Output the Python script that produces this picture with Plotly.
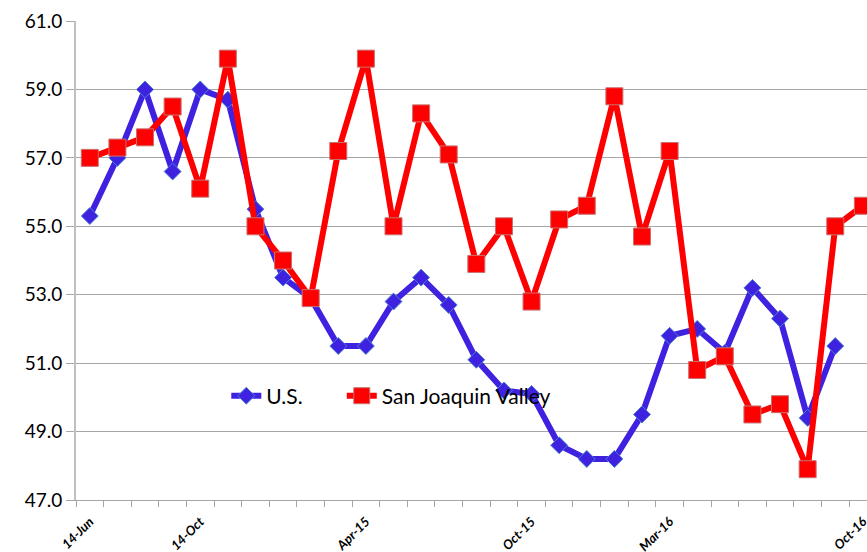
import plotly.graph_objects as go

months = ["14-Jun","14-Jul","14-Aug","14-Sep","14-Oct","14-Nov","14-Dec","15-Jan","15-Feb","15-Mar",
          "Apr-15","May-15","Jun-15","Jul-15","Aug-15","Sep-15","Oct-15","Nov-15","Dec-15","Jan-16",
          "Feb-16","Mar-16","Apr-16","May-16","Jun-16","Jul-16","Aug-16","Sep-16","Oct-16"]
us = [55.3, 57.0, 59.0, 56.6, 59.0, 58.7, 55.5, 53.5, 52.9, 51.5,
      51.5, 52.8, 53.5, 52.7, 51.1, 50.2, 50.1, 48.6, 48.2, 48.2,
      49.5, 51.8, 52.0, 51.3, 53.2, 52.3, 49.4, 51.5]
sjv = [57.0, 57.3, 57.6, 58.5, 56.1, 59.9, 55.0, 54.0, 52.9, 57.2,
       59.9, 55.0, 58.3, 57.1, 53.9, 55.0, 52.8, 55.2, 55.6, 58.8,
       54.7, 57.2, 50.8, 51.2, 49.5, 49.8, 47.9, 55.0, 55.6]
label_idx = [0, 4, 10, 16, 21, 28]
label_text = ["14-Jun", "14-Oct", "Apr-15", "Oct-15", "Mar-16", "Oct-16"]
y_ticks = [47, 49, 51, 53, 55, 57, 59, 61]

x_us = list(range(len(us)))
x_sjv = list(range(len(sjv)))

fig = go.Figure()
fig.add_trace(go.Scatter(
    x=x_us, y=us, name="U.S.", mode="lines+markers", legend="legend", showlegend=True,
    line=dict(color="#3F22E0", width=6),
    marker=dict(symbol="diamond", size=13, color="#3F22E0",
                line=dict(color="#4A7FD0", width=1)),
    cliponaxis=False))
fig.add_trace(go.Scatter(
    x=x_sjv, y=sjv, name="San Joaquin Valley", mode="lines+markers", legend="legend2", showlegend=True,
    line=dict(color="#FF0000", width=6),
    marker=dict(symbol="square", size=17, color="#FF0000",
                line=dict(color="#C87070", width=1)),
    cliponaxis=False))

leg_common = dict(orientation="h", yanchor="middle", xanchor="left",
                  font=dict(size=21, color="black"), bgcolor="rgba(0,0,0,0)",
                  itemwidth=30, borderwidth=0)

fig.update_layout(
    width=867, height=552, showlegend=True,
    margin=dict(l=76, r=0, t=21, b=52, autoexpand=False),
    paper_bgcolor="white", plot_bgcolor="white",
    font=dict(family="Lato, 'Open Sans', sans-serif", color="black"),
    legend=dict(x=0.19, y=0.217, **leg_common),
    legend2=dict(x=0.336, y=0.217, **leg_common),
    xaxis=dict(
        range=[-0.5, 28.15], tickmode="array", tickvals=label_idx, ticktext=label_text,
        tickangle=-45, ticks="", showgrid=False, zeroline=False, automargin=False,
        showline=True, linecolor="#A6A6A6", linewidth=1, ticklabelstandoff=8,
        ticklabeloverflow="allow",
        tickfont=dict(size=13, weight="bold", style="italic", color="black"),
        minor=dict(tickmode="linear", tick0=-0.5, dtick=1, ticks="outside",
                   ticklen=6, tickcolor="#A6A6A6", showgrid=False)),
    yaxis=dict(
        range=[47, 61], tickmode="array", tickvals=y_ticks, tickformat=".1f",
        showgrid=True, gridcolor="#A6A6A6", gridwidth=1, zeroline=False, automargin=False,
        showline=True, linecolor="#BFBFBF", linewidth=2,
        ticks="outside", ticklen=8, tickcolor="#A6A6A6",
        tickfont=dict(size=19, color="black")),
)

fig.write_html("out.html", config={"displayModeBar": False},
               post_script="document.body.style.margin='0';document.body.style.overflow='hidden';")
